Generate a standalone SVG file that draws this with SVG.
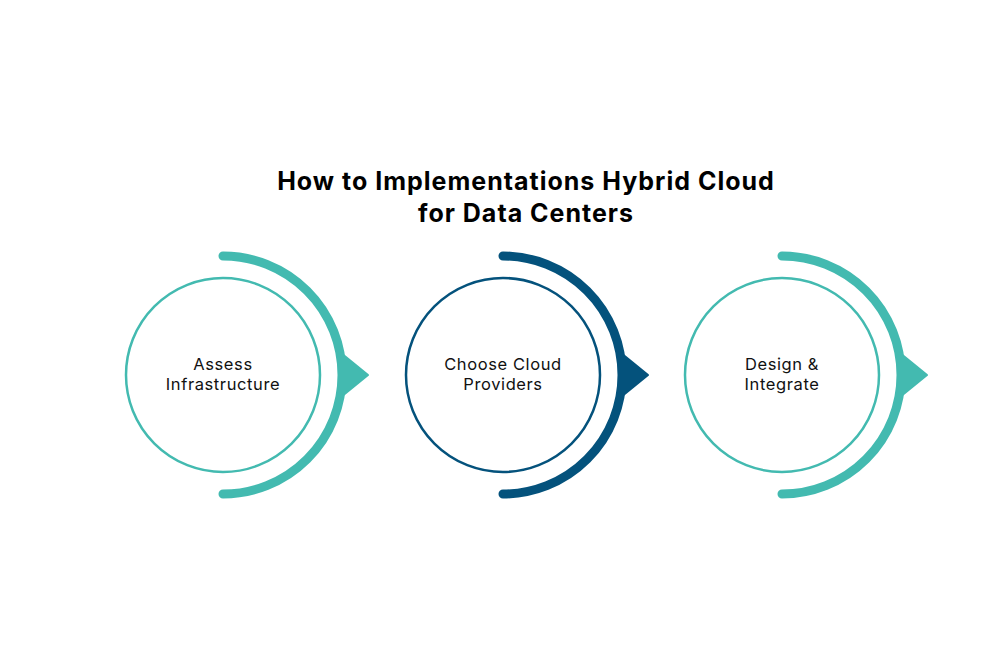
<svg xmlns="http://www.w3.org/2000/svg" width="998" height="652" viewBox="0 0 998 652">
<style>
.title{font-family:Inter,"Liberation Sans",sans-serif;font-weight:700;font-size:25px;letter-spacing:1px;fill:#000;text-anchor:middle}
.lbl{font-family:Inter,"Liberation Sans",sans-serif;font-weight:400;font-size:16.5px;letter-spacing:0.6px;fill:#111;text-anchor:middle}
.ring{fill:#fff;stroke-width:2.5}
.arc{fill:none;stroke-width:9;stroke-linecap:round}
.teal .ring,.teal .arc{stroke:#43BAB0}
.teal .tri{fill:#43BAB0;stroke:#43BAB0}
.blue .ring,.blue .arc{stroke:#04527C}
.blue .tri{fill:#04527C;stroke:#04527C}
.tri{stroke-width:2;stroke-linejoin:round}
</style>
<rect width="998" height="652" fill="#fff"/>
<g id="title">
<text class="title" x="526" y="190">How to Implementations Hybrid Cloud</text>
<text class="title" x="526" y="222">for Data Centers</text>
</g>
<g id="connectors">
<g class="teal">
<path class="arc" d="M223 256 A119 119 0 0 1 223 494"/>
<path class="tri" d="M341 353 L368 375 L341 397 Z"/>
</g>
<g class="blue">
<path class="arc" d="M503 256 A119 119 0 0 1 503 494"/>
<path class="tri" d="M621 353 L648 375 L621 397 Z"/>
</g>
<g class="teal">
<path class="arc" d="M782 256 A119 119 0 0 1 782 494"/>
<path class="tri" d="M900 353 L927 375 L900 397 Z"/>
</g>
</g>
<g id="node1" class="teal">
<circle class="ring" cx="223" cy="375" r="97"/>
<text class="lbl" x="223" y="370">Assess</text>
<text class="lbl" x="223" y="390">Infrastructure</text>
</g>
<g id="node2" class="blue">
<circle class="ring" cx="503" cy="375" r="97"/>
<text class="lbl" x="503" y="370">Choose Cloud</text>
<text class="lbl" x="503" y="390">Providers</text>
</g>
<g id="node3" class="teal">
<circle class="ring" cx="782" cy="375" r="97"/>
<text class="lbl" x="782" y="370">Design &amp;</text>
<text class="lbl" x="782" y="390">Integrate</text>
</g>
</svg>
